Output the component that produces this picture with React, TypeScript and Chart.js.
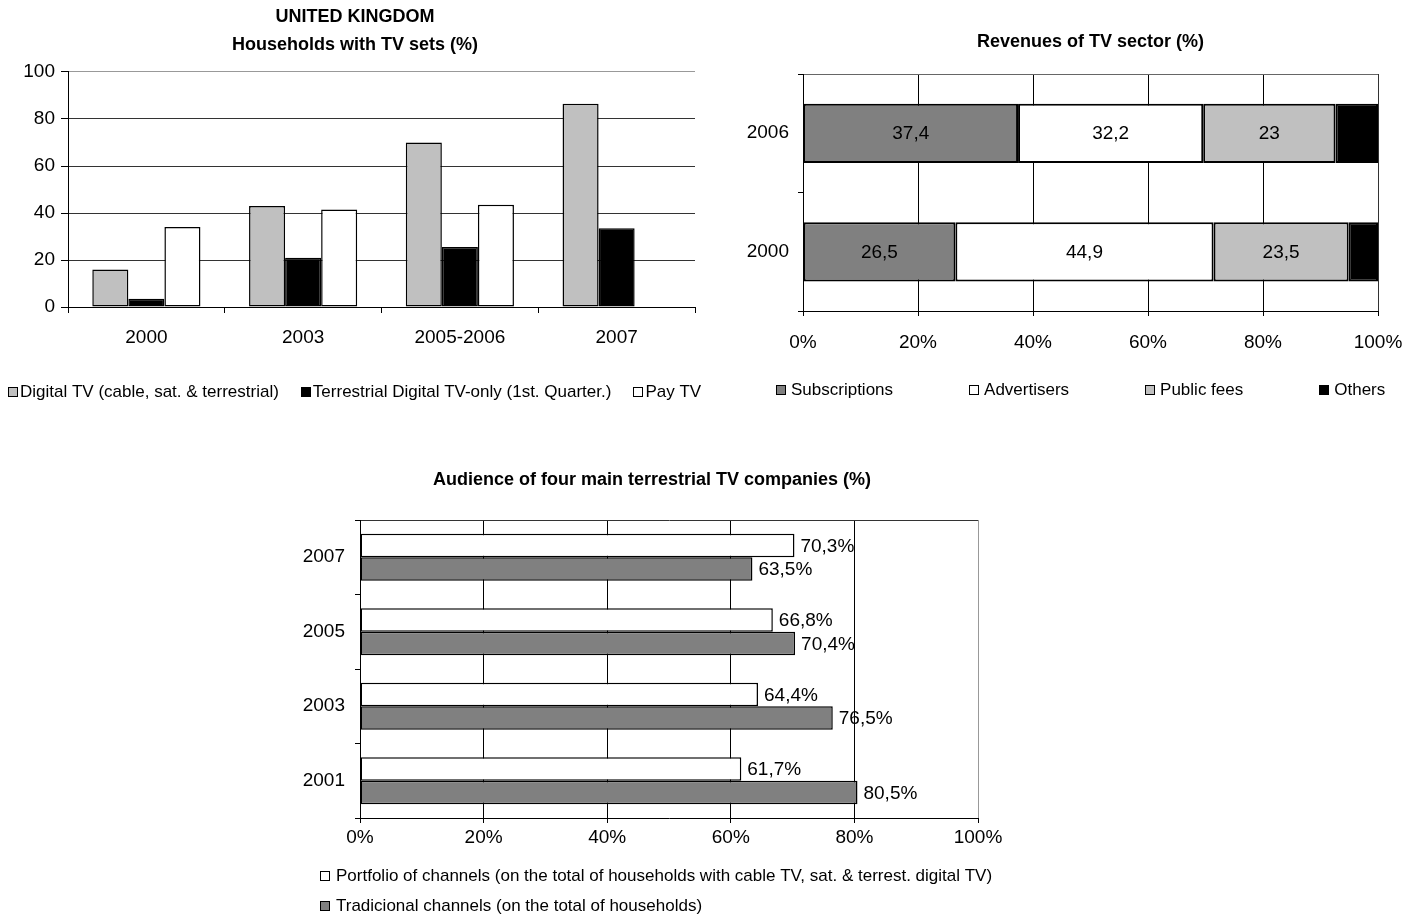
import { useEffect, useRef } from 'react';
import { Chart, registerables } from 'chart.js';

Chart.register(...registerables);

const FONT = "'Liberation Sans', Arial, Helvetica, sans-serif";
Chart.defaults.font.family = FONT;
Chart.defaults.color = '#000';

// Households with TV sets (%)
const householdYears = ['2000', '2003', '2005-2006', '2007'];
const digitalTv = [16, 43, 70, 86.5];
const terrestrialDigitalOnly = [3.5, 21, 25.5, 33.5];
const payTv = [34, 41.5, 43.5, null];

// Revenues of TV sector (%)
const revenueYears = ['2006', '2000'];
const subscriptions = [37.4, 26.5];
const advertisers = [32.2, 44.9];
const publicFees = [23, 23.5];
const otherRevenues = [7.4, 5.1];

// Audience of four main terrestrial TV companies (%)
const audienceYears = ['2007', '2005', '2003', '2001'];
const portfolioChannels = [70.3, 66.8, 64.4, 61.7];
const traditionalChannels = [63.5, 70.4, 76.5, 80.5];

const CLEAR = 'rgba(0,0,0,0)';

const formatValue = (v: number, style: string) =>
  style === 'percent' ? v.toFixed(1).replace('.', ',') + '%' : String(v).replace('.', ',');

// Writes each bar's value either centred in the segment or just past its end.
const valueLabels = {
  id: 'valueLabels',
  afterDatasetsDraw(chart: any, _args: any, opts: any) {
    if (!opts || !opts.enabled) return;
    const ctx = chart.ctx;
    ctx.save();
    ctx.font = `${opts.size}px ${FONT}`;
    ctx.fillStyle = '#000';
    ctx.textBaseline = 'middle';
    chart.data.datasets.forEach((ds: any, di: number) => {
      if ((opts.skip || []).includes(di)) return;
      const meta = chart.getDatasetMeta(di);
      meta.data.forEach((el: any, i: number) => {
        const v = ds.data[i];
        if (v == null) return;
        const text = formatValue(v, opts.style);
        if (opts.position === 'center') {
          ctx.textAlign = 'center';
          ctx.fillText(text, (el.x + el.base) / 2, el.y + 1);
        } else {
          ctx.textAlign = 'left';
          ctx.fillText(text, el.x + opts.offset, el.y + 1);
        }
      });
    });
    ctx.restore();
  },
};

// Small square swatches with dataset labels, in a row or a column.
const swatchLegend = {
  id: 'swatchLegend',
  afterDraw(chart: any, _args: any, opts: any) {
    if (!opts || !opts.enabled) return;
    const ctx = chart.ctx;
    ctx.save();
    ctx.font = `${opts.size}px ${FONT}`;
    ctx.textBaseline = 'middle';
    ctx.textAlign = 'left';
    let x = opts.x;
    let y = opts.y;
    const b = opts.box;
    chart.data.datasets.forEach((ds: any) => {
      const bx = Math.round(x) + 0.5;
      const by = Math.round(y - b / 2) + 0.5;
      ctx.fillStyle = ds.backgroundColor;
      ctx.fillRect(bx, by, b, b);
      ctx.strokeStyle = '#000';
      ctx.lineWidth = 1;
      ctx.strokeRect(bx, by, b, b);
      ctx.fillStyle = '#000';
      ctx.fillText(ds.label, x + opts.textOffset, y + 1);
      if (opts.vertical) {
        y += opts.rowStep;
      } else {
        x += opts.textOffset + ctx.measureText(ds.label).width + opts.gap;
      }
    });
    ctx.restore();
  },
};

const tickFont = { size: 19 };
const titleFont = { size: 18, weight: 'bold' as const };

const householdsConfig = (): any => ({
  type: 'bar',
  data: {
    labels: householdYears,
    datasets: [
      { label: 'Digital TV (cable, sat. & terrestrial)', data: digitalTv, backgroundColor: '#C0C0C0' },
      { label: 'Terrestrial Digital TV-only (1st. Quarter.)', data: terrestrialDigitalOnly, backgroundColor: '#000' },
      { label: 'Pay TV', data: payTv, backgroundColor: '#FFFFFF' },
    ],
  },
  options: {
    animation: false,
    responsive: false,
    devicePixelRatio: 1,
    events: [],
    layout: { padding: { left: 15, right: 15, top: 0, bottom: 53 } },
    datasets: {
      bar: { categoryPercentage: 0.69, barPercentage: 1, borderColor: '#000', borderWidth: 1.5, borderSkipped: false },
    },
    scales: {
      x: {
        grid: {
          offset: true,
          color: (c: any) => (c.index === householdYears.length ? '#999' : CLEAR),
          tickColor: '#000',
          tickLength: 6,
        },
        border: { color: '#000' },
        ticks: { font: tickFont, padding: 13, color: '#000' },
        afterFit: (s: any) => { s.height = 50; },
      },
      y: {
        min: 0,
        max: 100,
        ticks: { stepSize: 20, font: tickFont, padding: 6, color: '#000' },
        grid: {
          color: (c: any) => (c.tick && c.tick.value === 100 ? '#999' : '#333'),
          tickColor: '#000',
          tickLength: 7,
        },
        border: { color: '#000' },
        afterFit: (s: any) => { s.width = 53; },
      },
    },
    plugins: {
      legend: { display: false },
      tooltip: { enabled: false },
      title: { display: true, text: 'UNITED KINGDOM', font: titleFont, color: '#000', padding: { top: 6, bottom: 0 } },
      subtitle: { display: true, text: 'Households with TV sets (%)', font: titleFont, color: '#000', padding: { top: 6.6, bottom: 16.2 } },
      swatchLegend: { enabled: true, x: 8, y: 391, box: 9, textOffset: 12, gap: 22, size: 17 },
    },
  },
  plugins: [swatchLegend],
});

const revenuesConfig = (): any => ({
  type: 'bar',
  data: {
    labels: revenueYears,
    datasets: [
      { label: 'Subscriptions', data: subscriptions, backgroundColor: '#808080' },
      { label: 'Advertisers', data: advertisers, backgroundColor: '#FFFFFF' },
      { label: 'Public fees', data: publicFees, backgroundColor: '#C0C0C0' },
      { label: 'Others', data: otherRevenues, backgroundColor: '#000' },
    ],
  },
  options: {
    indexAxis: 'y',
    animation: false,
    responsive: false,
    devicePixelRatio: 1,
    events: [],
    layout: { padding: { left: 20, right: 41, top: 0, bottom: 49 } },
    datasets: {
      bar: { categoryPercentage: 1, barPercentage: 0.5, borderColor: '#000', borderWidth: 2, borderSkipped: false },
    },
    scales: {
      x: {
        stacked: true,
        min: 0,
        max: 100,
        ticks: { stepSize: 20, font: tickFont, padding: 15, color: '#000', callback: (v: any) => v + '%' },
        grid: {
          color: (c: any) => (c.tick && c.tick.value === 100 ? '#333' : '#000'),
          tickColor: '#000',
          tickLength: 5,
        },
        border: { color: '#000' },
        afterFit: (s: any) => { s.height = 50; },
      },
      y: {
        stacked: true,
        grid: {
          offset: true,
          color: (c: any) => (c.index === 0 ? '#666' : CLEAR),
          tickColor: '#000',
          tickLength: 5,
        },
        ticks: { font: tickFont, padding: 9, color: '#000' },
        border: { color: '#000' },
        afterFit: (s: any) => { s.width = 63; },
      },
    },
    plugins: {
      legend: { display: false },
      tooltip: { enabled: false },
      title: {
        display: true,
        fullSize: false,
        text: 'Revenues of TV sector (%)',
        font: titleFont,
        color: '#000',
        padding: { top: 31.2, bottom: 21.2 },
      },
      valueLabels: { enabled: true, position: 'center', style: 'plain', size: 19, skip: [3] },
      swatchLegend: { enabled: true, x: 56, y: 389, box: 9, textOffset: 15, gap: 76, size: 17 },
    },
  },
  plugins: [valueLabels, swatchLegend],
});

const audienceConfig = (): any => ({
  type: 'bar',
  data: {
    labels: audienceYears,
    datasets: [
      {
        label: 'Portfolio of channels (on the total of households with cable TV, sat. & terrest. digital TV)',
        data: portfolioChannels,
        backgroundColor: '#FFFFFF',
      },
      { label: 'Tradicional channels (on the total of households)', data: traditionalChannels, backgroundColor: '#808080' },
    ],
  },
  options: {
    indexAxis: 'y',
    animation: false,
    responsive: false,
    devicePixelRatio: 1,
    events: [],
    layout: { padding: { left: 14, right: 0, top: 0, bottom: 57 } },
    datasets: {
      bar: { categoryPercentage: 0.63, barPercentage: 1, borderColor: '#000', borderWidth: 1.5, borderSkipped: false },
    },
    scales: {
      x: {
        min: 0,
        max: 100,
        ticks: { stepSize: 20, font: tickFont, padding: 3, color: '#000', callback: (v: any) => v + '%' },
        grid: {
          color: (c: any) => (c.tick && c.tick.value === 100 ? '#999' : '#000'),
          tickColor: '#000',
          tickLength: 5,
        },
        border: { color: '#000' },
        afterFit: (s: any) => { s.height = 40; },
      },
      y: {
        grid: {
          offset: true,
          color: (c: any) => (c.index === 0 ? '#333' : CLEAR),
          tickColor: '#000',
          tickLength: 5,
        },
        ticks: { font: tickFont, padding: 10, color: '#000' },
        border: { color: '#000' },
        afterFit: (s: any) => { s.width = 66; },
      },
      // empty margin on the right so the title sits over the whole panel
      gutter: {
        type: 'linear',
        position: 'right',
        grid: { display: false },
        border: { display: false },
        ticks: { display: false },
        afterFit: (s: any) => { s.width = 32; },
      },
    },
    plugins: {
      legend: { display: false },
      tooltip: { enabled: false },
      title: {
        display: true,
        text: 'Audience of four main terrestrial TV companies (%)',
        font: titleFont,
        color: '#000',
        padding: { top: 29.2, bottom: 29.2 },
      },
      valueLabels: { enabled: true, position: 'end', style: 'percent', size: 19, offset: 6 },
      swatchLegend: { enabled: true, vertical: true, x: 40, y: 435, box: 9, textOffset: 16, rowStep: 30, size: 17 },
    },
  },
  plugins: [valueLabels, swatchLegend],
});

type PanelProps = { makeConfig: () => any; left: number; top: number; width: number; height: number };

function ChartPanel({ makeConfig, left, top, width, height }: PanelProps) {
  const ref = useRef<HTMLCanvasElement | null>(null);
  useEffect(() => {
    if (!ref.current) return;
    const chart = new Chart(ref.current, makeConfig());
    return () => chart.destroy();
  }, [makeConfig]);
  return (
    <div style={{ position: 'absolute', left, top, width, height }}>
      <canvas ref={ref} width={width} height={height} style={{ display: 'block', width, height }} />
    </div>
  );
}

export default function App() {
  return (
    <div
      style={{
        position: 'absolute',
        left: 0,
        top: 0,
        width: 1419,
        height: 915,
        overflow: 'hidden',
        background: '#fff',
      }}
    >
      <ChartPanel makeConfig={householdsConfig} left={0} top={0} width={710} height={410} />
      <ChartPanel makeConfig={revenuesConfig} left={720} top={0} width={699} height={410} />
      <ChartPanel makeConfig={audienceConfig} left={280} top={440} width={730} height={475} />
    </div>
  );
}
